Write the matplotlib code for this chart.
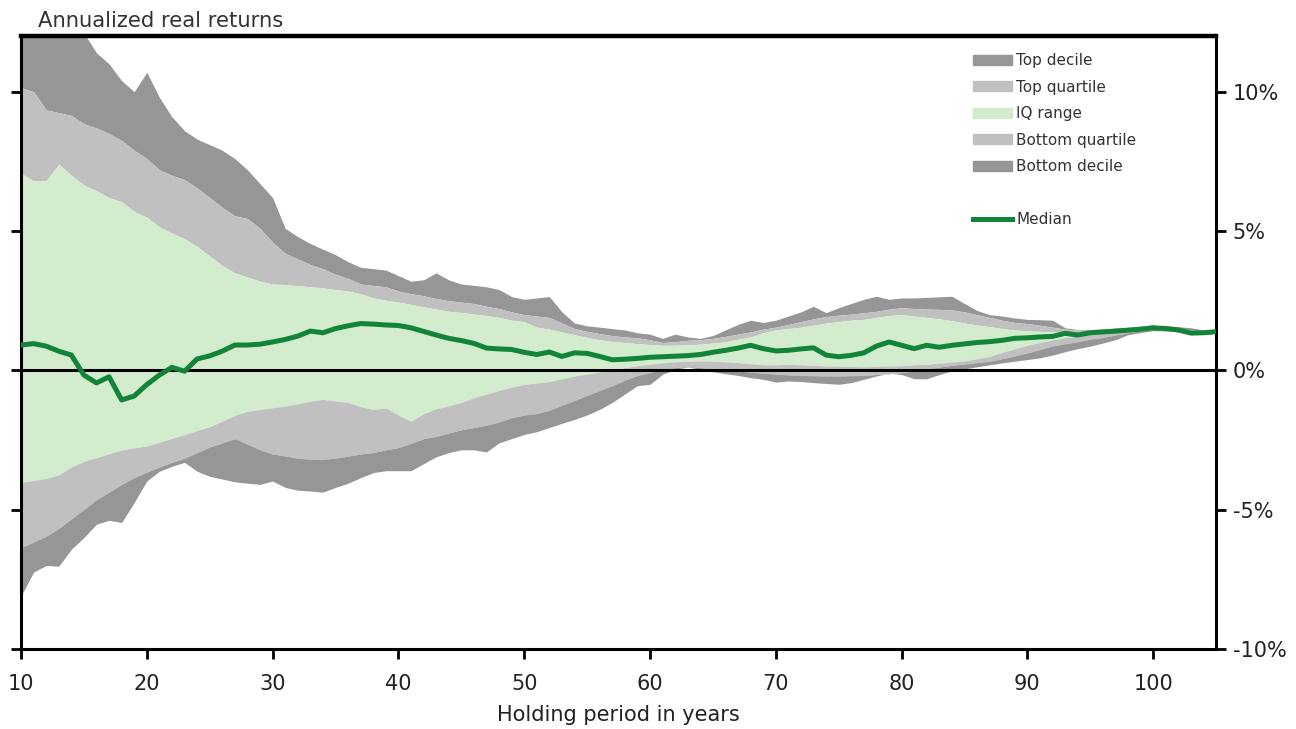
import matplotlib
matplotlib.use('Agg')
import matplotlib.pyplot as plt
from matplotlib.patches import Patch
from matplotlib.lines import Line2D

years = list(range(10, 106))

top_decile = [13.0, 13.0, 12.9, 12.7, 12.4, 12.1, 11.4, 11.0, 10.4, 10.0,
              10.7, 9.8, 9.1, 8.6, 8.3, 8.1, 7.9, 7.6, 7.2, 6.7,
              6.2, 5.1, 4.8, 4.55, 4.35, 4.15, 3.9, 3.7, 3.65, 3.6,
              3.4, 3.2, 3.25, 3.5, 3.25, 3.1, 3.05, 3.0, 2.9, 2.65,
              2.55, 2.6, 2.65, 2.1, 1.7, 1.6, 1.55, 1.5, 1.45, 1.35,
              1.3, 1.15, 1.3, 1.2, 1.15, 1.25, 1.45, 1.65, 1.8, 1.72,
              1.8, 1.95, 2.1, 2.3, 2.07, 2.25, 2.4, 2.55, 2.66, 2.55,
              2.6, 2.6, 2.62, 2.64, 2.66, 2.4, 2.15, 2.0, 1.95, 1.88,
              1.83, 1.82, 1.8, 1.53, 1.47, 1.47, 1.48, 1.52, 1.55, 1.58,
              1.6, 1.6, 1.57, 1.53, 1.45, 1.42]

top_quartile = [10.15, 10.0, 9.35, 9.25, 9.15, 8.85, 8.7, 8.5, 8.25, 7.9,
                7.6, 7.2, 7.0, 6.85, 6.55, 6.2, 5.85, 5.55, 5.45, 5.1,
                4.6, 4.2, 4.0, 3.8, 3.65, 3.45, 3.3, 3.1, 3.05, 3.0,
                2.85, 2.75, 2.68, 2.58, 2.5, 2.45, 2.4, 2.3, 2.22, 2.1,
                2.0, 1.95, 1.9, 1.7, 1.5, 1.4, 1.32, 1.25, 1.2, 1.17,
                1.1, 1.0, 1.03, 1.08, 1.1, 1.15, 1.22, 1.3, 1.38, 1.48,
                1.55, 1.65, 1.75, 1.85, 1.93, 1.98, 2.02, 2.07, 2.12, 2.2,
                2.25, 2.22, 2.2, 2.19, 2.17, 2.1, 2.0, 1.9, 1.8, 1.72,
                1.68, 1.62, 1.55, 1.48, 1.45, 1.44, 1.44, 1.46, 1.5, 1.53,
                1.56, 1.55, 1.5, 1.45, 1.42, 1.4]

iq_top = [7.07, 6.8, 6.8, 7.4, 7.0, 6.65, 6.45, 6.2, 6.05, 5.7,
          5.5, 5.15, 4.93, 4.72, 4.45, 4.1, 3.76, 3.5, 3.35, 3.2,
          3.1, 3.08, 3.04, 3.0, 2.96, 2.9, 2.85, 2.75, 2.6, 2.52,
          2.45, 2.37, 2.28, 2.2, 2.12, 2.08, 2.02, 1.97, 1.9, 1.8,
          1.75, 1.55, 1.48, 1.38, 1.28, 1.18, 1.1, 1.04, 1.0, 0.96,
          0.93, 0.9, 0.9, 0.92, 0.94, 0.98, 1.03, 1.12, 1.2, 1.35,
          1.45, 1.5, 1.55, 1.62, 1.7, 1.75, 1.8, 1.83, 1.9, 1.97,
          2.0, 1.95, 1.9, 1.85, 1.78, 1.7, 1.63, 1.57, 1.5, 1.45,
          1.42, 1.4, 1.38, 1.36, 1.35, 1.38, 1.4, 1.43, 1.46, 1.5,
          1.55, 1.53, 1.48, 1.4, 1.38, 1.4]

median = [0.91, 0.96, 0.87, 0.69, 0.55, -0.17, -0.45, -0.23, -1.06, -0.92,
          -0.51, -0.17, 0.11, -0.03, 0.41, 0.52, 0.69, 0.91, 0.91, 0.94,
          1.02, 1.11, 1.23, 1.41, 1.35, 1.5, 1.6, 1.68, 1.66, 1.63,
          1.61, 1.53, 1.4, 1.27, 1.15, 1.07, 0.97, 0.8, 0.77, 0.75,
          0.65, 0.57, 0.66, 0.5, 0.63, 0.61, 0.5, 0.38, 0.4, 0.43,
          0.47, 0.49, 0.51, 0.53, 0.57, 0.65, 0.72, 0.8, 0.9, 0.78,
          0.7, 0.72, 0.77, 0.81, 0.55, 0.49, 0.54, 0.63, 0.87, 1.02,
          0.9, 0.78, 0.9, 0.83, 0.9, 0.95, 1.0, 1.03, 1.08, 1.15,
          1.17, 1.2, 1.22, 1.33, 1.27, 1.35, 1.38, 1.41, 1.44, 1.48,
          1.53, 1.5, 1.45, 1.34, 1.35, 1.39]

iq_bottom = [-4.02, -3.95, -3.88, -3.75, -3.47, -3.26, -3.13, -2.99, -2.85, -2.78,
             -2.71, -2.58, -2.44, -2.3, -2.16, -2.02, -1.82, -1.61, -1.47, -1.4,
             -1.34, -1.28, -1.2, -1.1, -1.04, -1.1, -1.15, -1.3, -1.4, -1.35,
             -1.6, -1.82, -1.55, -1.38, -1.27, -1.15, -0.98, -0.85, -0.72, -0.6,
             -0.5, -0.45, -0.4, -0.3, -0.2, -0.13, -0.06, 0.02, 0.1, 0.17,
             0.22, 0.27, 0.31, 0.33, 0.33, 0.33, 0.31, 0.28, 0.24, 0.2,
             0.2, 0.22, 0.2, 0.18, 0.16, 0.15, 0.14, 0.13, 0.14, 0.16,
             0.17, 0.2, 0.22, 0.26, 0.3, 0.34, 0.42, 0.5, 0.65, 0.78,
             0.9, 1.0, 1.1, 1.18, 1.23, 1.3, 1.33, 1.37, 1.4, 1.44,
             1.48, 1.47, 1.42, 1.32, 1.33, 1.37]

bottom_quartile = [-6.36, -6.16, -5.95, -5.67, -5.33, -4.99, -4.64, -4.37, -4.09, -3.85,
                   -3.65, -3.47, -3.3, -3.15, -2.95, -2.75, -2.6, -2.45, -2.65, -2.85,
                   -3.0, -3.07, -3.15, -3.19, -3.19, -3.15, -3.08, -3.0, -2.95, -2.85,
                   -2.77, -2.62, -2.45, -2.37, -2.25, -2.13, -2.05, -1.97, -1.85, -1.7,
                   -1.6, -1.55, -1.43, -1.25, -1.08, -0.9, -0.72, -0.55, -0.35, -0.18,
                   -0.08, 0.04, 0.1, 0.13, 0.1, 0.06, 0.02, -0.01, -0.06, -0.1,
                   -0.13, -0.16, -0.18, -0.19, -0.2, -0.2, -0.19, -0.18, -0.15, -0.12,
                   -0.08, -0.02, 0.05, 0.12, 0.18, 0.23, 0.28, 0.33, 0.42, 0.52,
                   0.63, 0.75, 0.88, 0.96, 1.03, 1.12, 1.18, 1.27, 1.35, 1.42,
                   1.47, 1.45, 1.4, 1.3, 1.31, 1.35]

bottom_decile = [-8.1, -7.24, -7.0, -7.03, -6.42, -6.0, -5.52, -5.38, -5.46, -4.74,
                 -3.97, -3.62, -3.44, -3.3, -3.62, -3.8, -3.9, -4.0, -4.05, -4.09,
                 -3.97, -4.2, -4.3, -4.33, -4.37, -4.2, -4.05, -3.85, -3.67, -3.6,
                 -3.6, -3.6, -3.35, -3.1, -2.95, -2.85, -2.85, -2.93, -2.6, -2.45,
                 -2.3, -2.2, -2.05, -1.9, -1.76, -1.6, -1.4, -1.15, -0.85, -0.55,
                 -0.5, -0.14, 0.04, 0.12, 0.04, -0.05, -0.12, -0.18, -0.26, -0.32,
                 -0.42, -0.38, -0.4, -0.44, -0.47, -0.5, -0.44, -0.32, -0.2, -0.1,
                 -0.15, -0.3, -0.3, -0.15, -0.02, 0.05, 0.13, 0.2, 0.27, 0.33,
                 0.39, 0.45, 0.55, 0.67, 0.78, 0.87, 0.98, 1.1, 1.28, 1.36,
                 1.42, 1.42, 1.38, 1.28, 1.29, 1.33]

x_ticks = [10, 20, 30, 40, 50, 60, 70, 80, 90, 100]
y_ticks = [-10, -5, 0, 5, 10]
y_labels = ['-10%', '-5%', '0%', '5%', '10%']

dark_grey = '#969696'
light_grey = '#c0c0c0'
light_green = '#d3ecce'
median_green = '#12843a'
text_col = '#222222'

fig = plt.figure(figsize=(12.96, 7.29), dpi=100)
ax = fig.add_axes([0.0162, 0.1097, 0.9221, 0.8409])

# percentile bands, outer to inner
ax.fill_between(years, top_quartile, top_decile, color=dark_grey, lw=0)
ax.fill_between(years, iq_top, top_quartile, color=light_grey, lw=0)
ax.fill_between(years, iq_bottom, iq_top, color=light_green, lw=0)
ax.fill_between(years, bottom_quartile, iq_bottom, color=light_grey, lw=0)
ax.fill_between(years, bottom_decile, bottom_quartile, color=dark_grey, lw=0)
ax.axhline(0, color='black', lw=2.2, zorder=3)
ax.plot(years, median, color=median_green, lw=3.6, zorder=4)

ax.set_xlim(10, 105)
ax.set_ylim(-10, 12)
ax.set_xticks(x_ticks)
ax.set_yticks(y_ticks)
ax.set_yticklabels(y_labels)
ax.tick_params(axis='y', left=True, right=True, labelleft=False, labelright=True,
               direction='out', length=7, width=2, labelsize=15, pad=5,
               labelcolor=text_col)
ax.tick_params(axis='x', direction='out', length=7, width=2, labelsize=15,
               pad=11, labelcolor=text_col)
for side in ['left', 'right', 'bottom']:
    ax.spines[side].set_linewidth(2.2)
ax.spines['top'].set_linewidth(3.2)

ax.set_xlabel('Holding period in years', fontsize=15, color=text_col, labelpad=8)
fig.text(0.029, 0.958, 'Annualized real returns', fontsize=15.2, color='#333333',
         ha='left', va='bottom')

handles = [Patch(color=dark_grey), Patch(color=light_grey), Patch(color=light_green),
           Patch(color=light_grey), Patch(color=dark_grey),
           Patch(color='none'), Line2D([], [], color=median_green, lw=3.6)]
labels = ['Top decile', 'Top quartile', 'IQ range', 'Bottom quartile',
          'Bottom decile', ' ', 'Median']
leg = ax.legend(handles, labels, loc='upper left', bbox_to_anchor=(0.797, 0.972),
                frameon=False, fontsize=11, handlelength=2.5, handleheight=0.65,
                handletextpad=0.3, labelspacing=0.75, borderpad=0, borderaxespad=0)
for t in leg.get_texts():
    t.set_color('#333333')

fig.savefig('out.png', dpi=100)
